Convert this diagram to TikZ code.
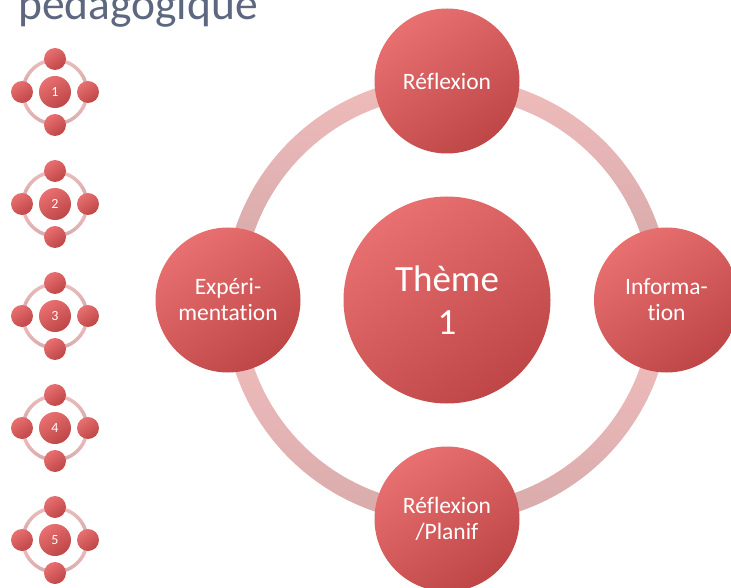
\documentclass[tikz,border=0pt]{standalone}
\usepackage{fontspec}
\setmainfont{Carlito}[Ligatures={NoCommon,NoContextual}]
\usetikzlibrary{calc}
\definecolor{ringlight}{HTML}{EFBBBB}
\definecolor{ringdark}{HTML}{D9ABAB}
\definecolor{balllight}{HTML}{E97070}
\definecolor{ballmid}{HTML}{DA5A5A}
\definecolor{balldark}{HTML}{BE4646}
\definecolor{titlecol}{HTML}{5D6880}
\tikzset{
  ball/.style={circle,inner sep=0pt,minimum size=#1,draw=none,
    top color=balllight,middle color=ballmid,bottom color=balldark,shading angle=35,
    text=white,align=center,font=\fontsize{23.5}{26}\selectfont},
  ringseg/.style={top color=ringlight,bottom color=ringdark,draw=none},
  smalltext/.style={text=white,font=\fontsize{14}{15}\selectfont}
}
% centre, radius, width, start, end
\newcommand{\ringarc}[5]{%
  \path[ringseg] ($(#1)+(#4:#2+#3/2)$) arc[start angle=#4,end angle=#5,radius=#2+#3/2]
    -- ($(#1)+(#5:#2-#3/2)$) arc[start angle=#5,end angle=#4,radius=#2-#3/2] -- cycle;}
\newcommand{\smallcycle}[2]{%
  \coordinate (c#2) at (55,-#1);
  \ringarc{c#2}{32pt}{3.5pt}{75}{15}
  \ringarc{c#2}{32pt}{3.5pt}{105}{165}
  \ringarc{c#2}{32pt}{3.5pt}{195}{255}
  \ringarc{c#2}{32pt}{3.5pt}{285}{345}
  \node[ball=22pt] (t#2) at ($(c#2)+(0,33)$) {};
  \node[ball=22pt] (r#2) at ($(c#2)+(33,0)$) {};
  \node[ball=22pt] (b#2) at ($(c#2)+(0,-33)$) {};
  \node[ball=22pt] (l#2) at ($(c#2)+(-33,0)$) {};
  \node[ball=32pt,smalltext] (m#2) at (c#2) {#2};
}
\begin{document}
\begin{tikzpicture}[x=1pt,y=1pt]
\useasboundingbox (0,0) rectangle (731,-588);
\fill[white] (0,0) rectangle (731,-588);
\node[anchor=base west,inner sep=0pt,text=titlecol,font=\fontsize{45.5}{48}\selectfont] (title) at (18,-20) {pédagogique};
\smallcycle{92}{1}
\smallcycle{204}{2}
\smallcycle{316}{3}
\smallcycle{428}{4}
\smallcycle{540}{5}
\coordinate (hub) at (447,-300);
\ringarc{hub}{214pt}{19pt}{75}{15}
\ringarc{hub}{214pt}{19pt}{105}{165}
\ringarc{hub}{214pt}{19pt}{195}{255}
\ringarc{hub}{214pt}{19pt}{285}{345}
\node[ball=145pt] (reflexion) at (447,-81) {Réflexion};
\node[ball=145pt] (information) at (666.5,-300) {Informa-\\tion};
\node[ball=145pt] (experimentation) at (228,-300) {Expéri-\\mentation};
\node[ball=145pt] (planif) at (447,-519) {Réflexion\\/Planif};
\node[ball=207pt,font=\fontsize{37}{43}\selectfont] (theme) at (447,-300) {Thème\\1};
\end{tikzpicture}
\end{document}
